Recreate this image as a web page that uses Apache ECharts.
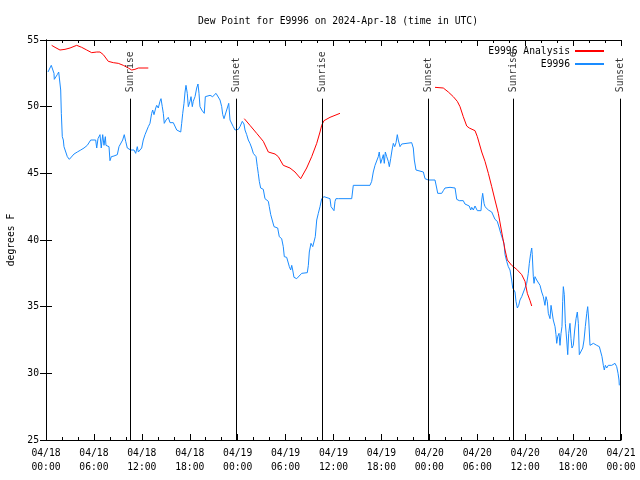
<!DOCTYPE html>
<html>
<head>
<meta charset="utf-8">
<script src="https://cdn.jsdelivr.net/npm/echarts@6/dist/echarts.min.js"></script>
<style>html,body{margin:0;padding:0;background:#fff}#c{width:640px;height:480px}</style>
</head>
<body>
<div id="c"></div>
<script>
// hours since 2024-04-18 00:00 UTC
var obsHours = [0.25,0.66,0.79,1.00,1.04,1.29,1.41,1.59,1.75,1.84,1.92,2.04,2.17,2.25,2.47,2.67,2.92,3.09,3.51,3.92,4.35,4.76,5.17,5.60,5.80,6.22,6.35,6.51,6.76,6.92,7.10,7.26,7.43,7.51,7.68,7.89,8.01,8.18,8.51,8.93,9.14,9.35,9.60,9.80,9.98,10.18,10.61,10.81,11.02,11.23,11.43,11.56,11.77,11.98,12.18,12.40,12.61,12.81,13.02,13.23,13.36,13.52,13.74,13.86,14.06,14.27,14.40,14.56,14.69,14.81,15.03,15.31,15.53,15.94,16.15,16.37,16.57,16.87,16.99,17.12,17.28,17.41,17.53,17.69,17.82,18.03,18.16,18.32,18.44,18.66,18.87,19.03,19.16,19.28,19.50,19.70,19.82,19.95,20.12,20.54,20.87,21.04,21.29,21.54,21.79,22.00,22.13,22.29,22.54,22.70,22.88,23.04,23.25,23.45,23.67,23.88,24.08,24.29,24.58,24.79,24.92,25.13,25.33,25.54,25.76,25.96,26.17,26.30,26.46,26.58,26.71,26.88,27.21,27.42,27.55,27.84,27.96,28.14,28.39,28.55,28.68,29.01,29.21,29.51,29.71,29.84,30.14,30.34,30.47,30.64,30.77,30.89,31.05,31.39,31.59,32.02,32.72,32.85,32.97,33.18,33.40,33.56,33.72,33.90,34.10,34.31,34.52,34.65,34.81,35.06,35.56,35.69,35.90,36.06,36.19,36.31,36.60,36.73,36.94,38.28,38.48,40.57,40.78,40.98,41.20,41.41,41.61,41.73,41.91,42.04,42.24,42.36,42.49,42.66,42.86,42.99,43.16,43.33,43.49,43.66,43.83,43.99,44.11,44.33,44.54,44.74,45.79,45.99,46.12,46.33,46.42,47.25,47.46,47.87,48.71,48.92,49.05,49.55,49.75,49.96,50.59,51.22,51.43,51.75,52.25,52.46,52.68,53.00,53.18,53.31,53.51,53.72,54.01,54.47,54.56,54.68,54.85,54.97,55.19,55.39,55.60,55.81,56.01,56.22,56.51,56.76,56.94,57.19,57.35,57.48,57.69,57.89,58.10,58.31,58.44,58.60,58.73,58.85,59.02,59.19,59.35,59.57,59.77,59.98,60.19,60.39,60.52,60.69,60.82,60.89,61.02,61.11,61.23,61.44,61.65,61.86,62.07,62.27,62.48,62.61,62.77,62.90,63.11,63.24,63.45,63.52,63.74,63.86,63.95,64.07,64.24,64.36,64.49,64.61,64.70,64.78,64.90,65.03,65.20,65.33,65.45,65.61,65.74,65.86,66.03,66.20,66.37,66.53,66.66,66.78,66.99,67.21,67.37,67.53,67.71,67.83,67.96,68.12,68.33,68.54,68.75,68.96,69.16,69.29,69.46,69.62,69.79,69.91,70.04,70.21,70.41,70.62,70.84,71.04,71.25,71.46,71.63,71.75,71.79];
var obsDew = [52.6,53.1,53.2,52.5,52.05,52.05,52.4,52.6,52.6,51.25,49.5,47.75,47.5,47.0,46.9,46.25,46.05,46.2,46.45,46.6,46.75,46.9,47.1,47.5,47.6,47.5,46.9,47.6,47.9,46.9,47.9,47.1,47.75,47.1,47.25,47.0,45.95,46.25,46.3,46.4,47.0,47.1,47.5,47.9,47.4,46.9,46.75,46.6,46.75,46.5,47.0,46.6,46.5,46.9,47.5,47.9,47.75,48.5,48.75,49.5,49.75,49.4,49.9,50.1,49.9,50.4,50.6,50.0,49.5,48.75,49.0,49.2,48.8,48.8,48.75,48.25,48.1,48.1,48.75,49.5,50.25,51.1,51.6,51.0,50.0,50.4,50.75,50.0,50.4,50.75,51.4,51.7,51.0,50.0,49.75,49.75,49.5,50.75,50.9,50.85,50.75,50.6,51.0,51.1,50.5,50.0,49.4,49.1,49.25,49.9,50.25,49.0,48.9,48.5,48.25,48.1,48.3,48.5,48.9,48.7,48.25,47.9,47.5,47.25,46.9,46.5,46.4,46.25,45.5,45.0,44.4,43.9,43.8,43.1,43.0,42.9,42.5,41.9,41.75,41.0,41.1,40.9,40.25,40.1,39.5,38.75,38.7,38.6,38.0,37.75,38.1,37.75,37.2,37.1,37.25,37.5,37.55,38.1,39.1,39.75,39.5,39.5,40.25,41.5,42.0,42.5,43.1,43.1,43.25,43.1,43.1,42.5,42.4,42.2,42.9,43.1,43.1,43.25,43.1,43.1,44.1,44.1,44.4,45.1,45.6,45.6,46.25,46.6,45.75,46.0,46.4,45.75,46.6,46.25,45.9,45.5,46.1,46.75,47.25,47.0,47.3,47.9,47.5,47.0,47.2,47.3,47.3,46.9,46.0,45.25,45.1,45.1,44.6,44.5,44.5,43.9,43.5,43.5,43.7,43.9,43.95,43.9,43.05,42.95,42.95,42.7,42.6,42.55,42.25,42.45,42.25,42.55,42.2,42.2,43.0,43.5,42.75,42.5,42.55,42.25,42.4,42.1,42.0,41.55,41.4,40.9,40.5,40.45,39.75,38.9,38.4,38.0,37.75,37.0,36.4,36.25,36.1,35.4,34.9,35.1,35.5,35.75,35.8,36.4,36.75,37.5,38.25,39.0,39.4,38.9,37.25,36.75,37.25,37.0,36.9,36.6,36.1,35.75,35.1,35.75,35.4,34.5,34.1,35.1,35.0,34.0,33.5,32.9,32.25,32.75,33.0,32.1,33.0,33.5,35.4,36.5,35.9,33.75,32.5,31.4,33.0,33.75,32.6,31.9,32.1,33.25,34.1,34.6,33.75,31.4,31.5,31.9,32.5,33.5,34.5,35.0,34.0,32.1,32.1,32.25,32.25,32.1,32.25,32.0,32.1,31.25,30.6,30.25,30.6,30.4,30.6,30.5,30.6,30.5,30.75,30.5,30.0,29.5,29.1];
// analysis (null = gap between analysis runs)
var anaHours = [0.71,1.13,1.75,2.38,3.01,3.84,4.47,5.10,5.72,6.35,6.76,7.18,7.80,8.43,9.05,9.68,10.31,10.73,11.14,11.56,12.81,18.0,24.83,25.54,26.38,27.21,27.84,28.68,29.09,29.71,30.55,31.18,31.89,32.64,33.27,33.90,34.31,34.52,34.81,35.56,36.81,42.0,48.71,49.75,50.38,51.00,51.50,51.84,52.25,52.68,53.00,53.72,54.01,54.56,54.97,55.39,55.81,56.22,56.64,57.06,57.48,57.77,58.31,58.94,59.57,59.98,60.27,60.61,60.82];
var anaDew = [54.6,54.45,54.25,54.3,54.4,54.6,54.45,54.25,54.05,54.1,54.1,53.9,53.4,53.3,53.25,53.1,52.9,52.75,52.8,52.9,52.9,null,49.1,48.6,48.0,47.4,46.6,46.45,46.25,45.6,45.4,45.1,44.6,45.4,46.25,47.25,48.1,48.6,48.95,49.2,49.5,null,51.45,51.4,51.1,50.75,50.4,50.0,49.25,48.55,48.4,48.2,47.75,46.6,45.9,45.0,44.0,43.0,42.0,40.6,39.25,38.5,38.1,37.8,37.4,36.9,36.0,35.45,35.05];
var eventHours = [10.55,23.82,34.6,47.85,58.5,71.9];
var eventNames = ['Sunrise','Sunset','Sunrise','Sunset','Sunrise','Sunset'];
var xTickLabels = ['04/18\n00:00','04/18\n06:00','04/18\n12:00','04/18\n18:00','04/19\n00:00','04/19\n06:00','04/19\n12:00','04/19\n18:00','04/20\n00:00','04/20\n06:00','04/20\n12:00','04/20\n18:00','04/21\n00:00'];
var yTicks = [25,30,35,40,45,50,55];

var FONT = 'DejaVu Sans Mono';
var FS = 9.7;
var obsData = obsHours.map(function(t,i){return [t, obsDew[i]];});
var anaData = anaHours.map(function(t,i){return [t, anaDew[i]==null?'-':anaDew[i]];});
var evLineTop = 50.6;
var markLines = eventHours.map(function(t){return [{coord:[t,25]},{coord:[t,evLineTop]}];});
var evLabels = eventHours.map(function(t,i){return {value:[t,evLineTop], name:eventNames[i]};});

var chart = echarts.init(document.getElementById('c'), null, {renderer:'canvas'});
var axisBase = {
  type:'value', axisLine:{show:true, lineStyle:{color:'#000', width:1}},
  splitLine:{show:false}
};
chart.setOption({
  animation:false,
  backgroundColor:'#fff',
  title:{text:'Dew Point for E9996 on 2024-Apr-18 (time in UTC)', left:333, top:11, textAlign:'center',
    textStyle:{fontFamily:FONT, fontSize:FS, fontWeight:'normal', color:'#000'}},
  legend:{orient:'vertical', right:30, top:41, align:'right', itemWidth:29, itemHeight:10, itemGap:3,
    itemStyle:{opacity:0},
    textStyle:{fontFamily:FONT, fontSize:FS, color:'#000'},
    data:['E9996 Analysis','E9996']},
  grid:{left:46, right:19, top:40, bottom:40, containLabel:false, outerBoundsMode:'none'},
  xAxis:[
    Object.assign({}, axisBase, {min:0, max:72, interval:6, position:'bottom',
      axisTick:{show:true, inside:true, length:6, lineStyle:{color:'#000'}},
      minorTick:{show:true, splitNumber:3, length:3, lineStyle:{color:'#000'}},
      axisLabel:{margin:6, fontFamily:FONT, fontSize:FS, color:'#000', lineHeight:14,
        formatter:function(v){return xTickLabels[Math.round(v/6)];}}}),
    Object.assign({}, axisBase, {min:0, max:72, interval:6, position:'top',
      axisTick:{show:true, inside:true, length:6, lineStyle:{color:'#000'}},
      minorTick:{show:true, splitNumber:3, length:3, lineStyle:{color:'#000'}},
      axisLabel:{show:false}})
  ],
  yAxis:[
    Object.assign({}, axisBase, {min:yTicks[0], max:yTicks[yTicks.length-1], interval:5, position:'left',
      name:'degrees F', nameLocation:'middle', nameGap:29,
      nameTextStyle:{fontFamily:FONT, fontSize:FS, color:'#000'},
      axisTick:{show:true, inside:true, length:6, lineStyle:{color:'#000'}},
      axisLabel:{margin:7, fontFamily:FONT, fontSize:FS, color:'#000'}}),
    Object.assign({}, axisBase, {min:yTicks[0], max:yTicks[yTicks.length-1], interval:5, position:'right',
      axisTick:{show:true, inside:true, length:6, lineStyle:{color:'#000'}},
      axisLabel:{show:false}})
  ],
  series:[
    {name:'E9996 Analysis', type:'line', data:anaData, showSymbol:false, symbol:'none',
      connectNulls:false, lineStyle:{color:'#ff0000', width:1}, itemStyle:{color:'#ff0000'}, z:3},
    {name:'E9996', type:'line', data:obsData, showSymbol:false, symbol:'none',
      lineStyle:{color:'#1a8cff', width:1}, itemStyle:{color:'#1a8cff'}, z:2},
    {name:'events', type:'scatter', data:evLabels, symbolSize:1, itemStyle:{color:'rgba(0,0,0,0)'},
      label:{show:true, position:'top', distance:6, rotate:90, align:'left', verticalAlign:'middle',
        formatter:'{b}', fontFamily:FONT, fontSize:FS, color:'#000'},
      markLine:{silent:true, symbol:'none', label:{show:false},
        lineStyle:{color:'#000', width:1, type:'solid'}, data:markLines}, z:4}
  ]
});
</script>
</body>
</html>
